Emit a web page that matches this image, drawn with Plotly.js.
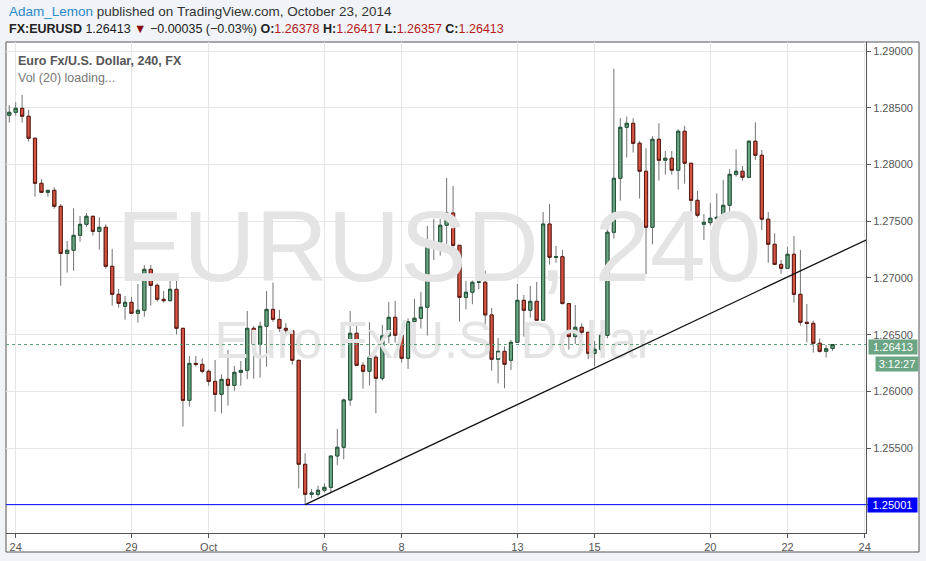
<!DOCTYPE html>
<html>
<head>
<meta charset="utf-8">
<script src="https://cdn.plot.ly/plotly-3.0.1.min.js"></script>
<style>
html,body{margin:0;padding:0;background:#F0F3F7;}
#chart{width:926px;height:561px;}
</style>
</head>
<body>
<div id="chart"></div>
<script>
// ---- data (EUR/USD, 4H bars, Sep 23 - Oct 23, 2014) ----
const openP = [
1.28435,1.28461,1.28496,1.28426,1.28232,1.27835,1.27755,1.27773,1.27632,1.27217,
1.27244,1.27376,1.27473,1.27544,1.27411,1.27447,1.27103,1.26856,1.26750,1.26785,
1.26688,1.26715,1.27076,1.26935,1.26812,1.26800,1.26900,1.26556,1.25921,1.26247,
1.26238,1.26177,1.26088,1.25974,1.26106,1.26053,1.26168,1.26185,1.26556,1.26415,
1.26574,1.26723,1.26635,1.26556,1.26535,1.26274,1.25357,1.25092,1.25092,1.25128,
1.25154,1.25430,1.25507,1.25924,1.26512,1.26230,1.26177,1.26301,1.26115,1.26489,
1.26653,1.26495,1.26292,1.26615,1.26645,1.26742,1.27297,1.27315,1.27465,1.27573,
1.27288,1.26829,1.26874,1.26962,1.26962,1.26674,1.26283,1.26353,1.26274,1.26433,
1.26803,1.26715,1.26794,1.26627,1.27476,1.27182,1.27188,1.26774,1.26483,1.26565,
1.26521,1.26336,1.26371,1.26494,1.27403,1.27879,1.28329,1.28364,1.28188,1.27941,
1.27447,1.28223,1.28038,1.28056,1.27950,1.28294,1.28012,1.27685,1.27474,1.27488,
1.27523,1.27529,1.27641,1.27914,1.27941,1.27888,1.28206,1.28082,1.27518,1.27297,
1.27120,1.27085,1.27209,1.26856,1.26609,1.26600,1.26424,1.26353,1.26378];
const highP = [
1.28526,1.28549,1.28614,1.28482,1.28240,1.27873,1.27773,1.27799,1.27652,1.27326,
1.27614,1.27547,1.27573,1.27548,1.27535,1.27473,1.27256,1.26903,1.26841,1.26832,
1.26947,1.27114,1.27115,1.26953,1.26885,1.26991,1.26991,1.26556,1.26312,1.26312,
1.26291,1.26194,1.26277,1.26150,1.26365,1.26224,1.26268,1.26709,1.26576,1.26615,
1.26885,1.26959,1.26718,1.26603,1.26538,1.26274,1.25454,1.25139,1.25169,1.25189,
1.25430,1.25669,1.25936,1.26709,1.26586,1.26257,1.26610,1.26321,1.26586,1.26789,
1.26798,1.26530,1.26645,1.26815,1.26877,1.27459,1.27521,1.27521,1.27882,1.27811,
1.27288,1.26974,1.26977,1.27124,1.27065,1.26736,1.26471,1.26397,1.26453,1.26947,
1.26850,1.26930,1.26965,1.27582,1.27653,1.27282,1.27247,1.26774,1.26762,1.26600,
1.26521,1.26444,1.26520,1.27538,1.28844,1.28409,1.28423,1.28409,1.28209,1.28144,
1.28250,1.28364,1.28120,1.28120,1.28311,1.28341,1.28012,1.27768,1.27565,1.27659,
1.27747,1.27865,1.27959,1.28135,1.27988,1.28217,1.28373,1.28129,1.27580,1.27394,
1.27159,1.27274,1.27371,1.27247,1.26771,1.26624,1.26468,1.26409,1.26417];
const lowP = [
1.28370,1.28432,1.28370,1.28202,1.27717,1.27755,1.27717,1.27611,1.26932,1.27047,
1.27064,1.27320,1.27452,1.27373,1.27250,1.27082,1.26756,1.26738,1.26632,1.26688,
1.26606,1.26659,1.26756,1.26791,1.26782,1.26791,1.26503,1.25690,1.25865,1.26218,
1.26160,1.26050,1.25821,1.25806,1.25874,1.26006,1.26050,1.26109,1.26112,1.26121,
1.26218,1.26612,1.26524,1.26488,1.26236,1.25145,1.25001,1.25057,1.25072,1.25110,
1.25101,1.25351,1.25401,1.25874,1.26230,1.26024,1.26051,1.25807,1.26095,1.26424,
1.26430,1.26254,1.26198,1.26386,1.26554,1.26492,1.27159,1.27197,1.27282,1.27162,
1.26615,1.26724,1.26768,1.26900,1.26562,1.26183,1.26071,1.26027,1.26189,1.26433,
1.26483,1.26650,1.26627,1.26627,1.27118,1.27135,1.26768,1.26368,1.26418,1.26371,
1.26283,1.26221,1.26350,1.26470,1.27347,1.27682,1.28062,1.28106,1.27700,1.27033,
1.27297,1.27859,1.27912,1.27912,1.27779,1.27832,1.27409,1.27535,1.27335,1.27462,
1.27285,1.27497,1.27521,1.27894,1.27859,1.27879,1.28041,1.27423,1.27135,1.27120,
1.27038,1.27085,1.26782,1.26580,1.26433,1.26342,1.26342,1.26298,1.26357];
const closeP = [
1.28461,1.28496,1.28426,1.28232,1.27835,1.27755,1.27773,1.27632,1.27217,1.27244,
1.27376,1.27473,1.27544,1.27411,1.27447,1.27103,1.26856,1.26776,1.26785,1.26688,
1.26715,1.27076,1.26935,1.26812,1.26800,1.26900,1.26556,1.25921,1.26247,1.26238,
1.26177,1.26088,1.25974,1.26106,1.26053,1.26168,1.26185,1.26556,1.26415,1.26574,
1.26723,1.26635,1.26556,1.26535,1.26274,1.25357,1.25092,1.25104,1.25128,1.25154,
1.25430,1.25507,1.25924,1.26512,1.26230,1.26177,1.26301,1.26115,1.26489,1.26653,
1.26495,1.26292,1.26615,1.26645,1.26742,1.27297,1.27315,1.27465,1.27573,1.27288,
1.26829,1.26874,1.26962,1.26965,1.26674,1.26283,1.26353,1.26239,1.26433,1.26803,
1.26715,1.26794,1.26627,1.27476,1.27182,1.27188,1.26774,1.26483,1.26565,1.26521,
1.26336,1.26371,1.26494,1.27403,1.27879,1.28329,1.28364,1.28188,1.27941,1.27447,
1.28223,1.28038,1.28056,1.27950,1.28294,1.28012,1.27685,1.27553,1.27491,1.27527,
1.27535,1.27641,1.27914,1.27941,1.27888,1.28206,1.28082,1.27518,1.27297,1.27120,
1.27085,1.27209,1.26856,1.26609,1.26600,1.26424,1.26353,1.26376,1.26413];

// date tick labels (bar index of the first 4H bar of each labelled day)
const dayTickIndex = [1, 19, 31, 49, 61, 79, 91, 109, 121, 133];
const dayTickLabels = ['24', '29', 'Oct', '6', '8', '13', '15', '20', '22', '24'];
const priceTicks = [1.25, 1.255, 1.26, 1.265, 1.27, 1.275, 1.28, 1.285, 1.29];

const lastPrice = 1.26413;
const supportLevel = 1.25001;
const trendStart = [46, 1.25001];
const trendEnd = [133.2, 1.27335];
const countdown = '3:12:27';

// ---- build ----
const barIdx = openP.map((_, i) => i);
const bodyHigh = openP.map((o, i) => Math.max(o, closeP[i]));
const bodyLow = openP.map((o, i) => Math.min(o, closeP[i]));

const FONT = 'Liberation Sans, Arial, sans-serif';
const WICK = '#737375';

const traces = [
  { type: 'scatter', mode: 'text', x: [66.8], y: [1.27194], text: ['EURUSD, 240'],
    textposition: 'middle center', textfont: { family: FONT, size: 100, color: '#E4E4E4' },
    hoverinfo: 'skip', showlegend: false },
  { type: 'scatter', mode: 'text', x: [66.05], y: [1.26410], text: ['Euro Fx/U.S. Dollar'],
    textposition: 'middle center', textfont: { family: FONT, size: 51, color: '#E4E4E4' },
    hoverinfo: 'skip', showlegend: false },
  { type: 'candlestick', x: barIdx, open: openP, high: highP, low: lowP, close: closeP,
    increasing: { line: { color: WICK, width: 1 }, fillcolor: WICK },
    decreasing: { line: { color: WICK, width: 1 }, fillcolor: WICK },
    whiskerwidth: 0, hoverinfo: 'skip', showlegend: false },
  { type: 'candlestick', x: barIdx, open: openP, high: bodyHigh, low: bodyLow, close: closeP,
    increasing: { line: { color: '#225437', width: 1 }, fillcolor: '#6BA583' },
    decreasing: { line: { color: '#5B1A13', width: 1 }, fillcolor: '#D75442' },
    whiskerwidth: 0, hoverinfo: 'skip', showlegend: false }
];

const PL = 6, PR = 866, PT = 42, PB = 533;
const pw = PR - PL, ph = PB - PT;
const px = v => (v - PL) / pw;
const py = v => (PB - v) / ph;

const layout = {
  width: 926, height: 561,
  margin: { l: PL, r: 926 - PR, t: PT, b: 561 - PB, pad: 0 },
  paper_bgcolor: '#F0F3F7', plot_bgcolor: '#FFFFFF',
  showlegend: false,
  xaxis: {
    type: 'linear', range: [-0.51, 133.2], tickvals: dayTickIndex, ticktext: dayTickLabels,
    showgrid: true, gridcolor: '#E6E6E6', gridwidth: 1, zeroline: false,
    showline: true, linecolor: '#555555', linewidth: 1,
    ticks: 'outside', ticklen: 4, tickcolor: '#555555',
    tickfont: { family: FONT, size: 11, color: '#555555' },
    rangeslider: { visible: false }, fixedrange: true
  },
  yaxis: {
    side: 'right', range: [1.24751, 1.29081], tickvals: priceTicks, tickformat: '.5f',
    showgrid: true, gridcolor: '#E6E6E6', gridwidth: 1, zeroline: false,
    showline: true, linecolor: '#555555', linewidth: 1,
    ticks: 'outside', ticklen: 4, tickcolor: '#555555',
    tickfont: { family: FONT, size: 11, color: '#555555' }, fixedrange: true
  },
  shapes: [
    { type: 'rect', xref: 'paper', yref: 'paper', x0: 0, x1: px(919), y0: py(552), y1: 1,
      line: { color: '#555555', width: 1 }, fillcolor: '#FFFFFF', layer: 'below' },
    { type: 'line', xref: 'paper', yref: 'y', x0: 0, x1: 1, y0: lastPrice, y1: lastPrice,
      line: { color: '#5A9E76', width: 1, dash: 'dot' } },
    { type: 'line', xref: 'paper', yref: 'y', x0: 0, x1: 1, y0: supportLevel, y1: supportLevel,
      line: { color: '#0000FF', width: 1 } },
    { type: 'line', xref: 'x', yref: 'y', x0: trendStart[0], y0: trendStart[1], x1: trendEnd[0], y1: trendEnd[1],
      line: { color: '#111111', width: 1.3 } }
  ],
  annotations: [
    { xref: 'paper', yref: 'paper', x: px(7), y: py(12), xanchor: 'left', yanchor: 'middle', showarrow: false,
      text: '<span style="color:#2B8ACB">Adam_Lemon</span> published on TradingView.com, October 23, 2014',
      font: { family: FONT, size: 13.5, color: '#333333' } },
    { xref: 'paper', yref: 'paper', x: px(7), y: py(29), xanchor: 'left', yanchor: 'middle', showarrow: false,
      text: '<b>FX:EURUSD</b> 1.26413 <span style="color:#8B0E0E">▼</span> −0.00035 (−0.03%) ' +
            '<b>O:</b><span style="color:#B71C1C">1.26378</span> <b>H:</b><span style="color:#B71C1C">1.26417</span> ' +
            '<b>L:</b><span style="color:#B71C1C">1.26357</span> <b>C:</b><span style="color:#B71C1C">1.26413</span>',
      font: { family: FONT, size: 12.5, color: '#222222' } },
    { xref: 'paper', yref: 'paper', x: px(16), y: py(61), xanchor: 'left', yanchor: 'middle', showarrow: false,
      text: '<b>Euro Fx/U.S. Dollar, 240, FX</b>', font: { family: FONT, size: 12.5, color: '#555555' } },
    { xref: 'paper', yref: 'paper', x: px(16), y: py(78), xanchor: 'left', yanchor: 'middle', showarrow: false,
      text: 'Vol (20) loading...', font: { family: FONT, size: 12.5, color: '#777777' } },
    { xref: 'paper', yref: 'y', x: px(868), y: lastPrice, yshift: -2, xanchor: 'left', yanchor: 'middle', showarrow: false,
      text: lastPrice.toFixed(5), bgcolor: '#6BA583', width: 46, height: 12, borderpad: 1,
      font: { family: FONT, size: 11, color: '#FFFFFF' } },
    { xref: 'paper', yref: 'y', x: px(875), y: lastPrice, yshift: -19, xanchor: 'left', yanchor: 'middle', showarrow: false,
      text: countdown, bgcolor: '#6BA583', width: 40, height: 12, borderpad: 1,
      font: { family: FONT, size: 11, color: '#FFFFFF' } },
    { xref: 'paper', yref: 'y', x: px(867), y: supportLevel, xanchor: 'left', yanchor: 'middle', showarrow: false,
      text: supportLevel.toFixed(5), bgcolor: '#0000FF', width: 47, height: 12, borderpad: 1,
      font: { family: FONT, size: 11, color: '#FFFFFF' } }
  ]
};

Plotly.newPlot('chart', traces, layout, { staticPlot: true, displayModeBar: false });
</script>
</body>
</html>
